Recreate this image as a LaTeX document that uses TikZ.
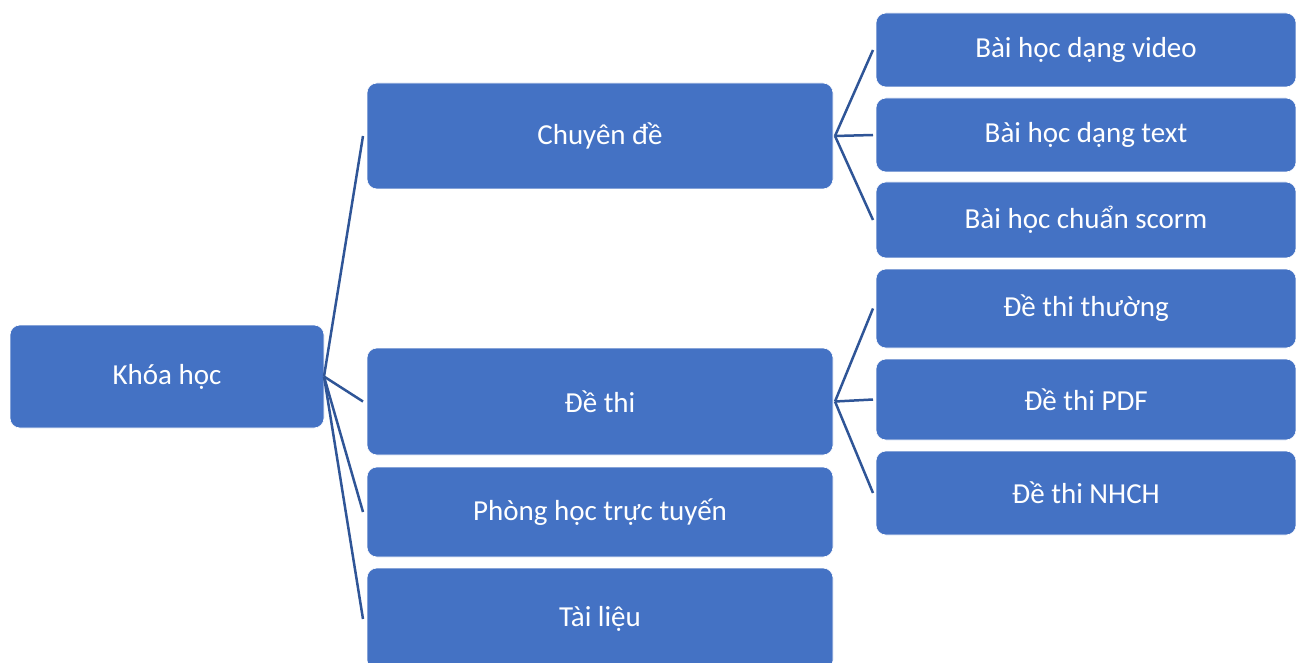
\documentclass[tikz,border=0pt]{standalone}
\usepackage{fontspec}
\setmainfont{Carlito}
\usepackage{tikz}
\definecolor{boxblue}{HTML}{4472C4}
\definecolor{lineblue}{HTML}{2F5597}

\begin{document}
\begin{tikzpicture}[x=1pt, y=-1pt,
		topic/.style={draw=white, line width=0.6pt, fill=boxblue, rounded corners=10pt,
			text=white, font=\fontsize{29}{33}\selectfont, inner sep=0pt, outer sep=0pt},
		rootbox/.style={topic, minimum width=314pt, minimum height=103pt},
		midbox/.style={topic, minimum width=466pt},
		leafbox/.style={topic, minimum width=420pt},
		link/.style={draw=lineblue, line width=2.5pt}]
		%%%%% START %%%%%
		\useasboundingbox (0, 0) rectangle (1296, 663);
		\clip (0, 0) rectangle (1296, 663);
		
		\node[rootbox] (khoahoc) at (167, 376.5) {Khóa học};
		
		\node[midbox, minimum height=106pt] (chuyende) at (600, 136) {Chuyên đề};
		\node[midbox, minimum height=107pt] (dethi) at (600, 401.5) {Đề thi};
		\node[midbox, minimum height=90pt] (phonghoc) at (600, 512) {Phòng học trực tuyến};
		\node[midbox, minimum height=102pt] (tailieu) at (600, 619) {Tài liệu};
		
		\node[leafbox, minimum height=74pt] (video) at (1086, 50) {Bài học dạng video};
		\node[leafbox, minimum height=74pt] (text) at (1086, 135) {Bài học dạng text};
		\node[leafbox, minimum height=76pt] (scorm) at (1086, 220) {Bài học chuẩn scorm};
		\node[leafbox, minimum height=79pt] (thuong) at (1086, 308.5) {Đề thi thường};
		\node[leafbox, minimum height=81pt] (pdf) at (1086, 399.5) {Đề thi PDF};
		\node[leafbox, minimum height=84pt] (nhch) at (1086, 493) {Đề thi NHCH};
		
		% root to topics
		\draw[link] (khoahoc.east) -- ([xshift=-4pt]chuyende.west);
		\draw[link] (khoahoc.east) -- ([xshift=-4pt]dethi.west);
		\draw[link] (khoahoc.east) -- ([xshift=-4pt]phonghoc.west);
		\draw[link] (khoahoc.east) -- ([xshift=-4pt]tailieu.west);
		
		% topics to leaves
		\foreach \leaf in {video, text, scorm}
			\draw[link] ([xshift=2pt]chuyende.east) -- ([xshift=-3pt]\leaf.west);
		\foreach \leaf in {thuong, pdf, nhch}
			\draw[link] ([xshift=2pt]dethi.east) -- ([xshift=-3pt]\leaf.west);
		%%%%% END %%%%%
	\end{tikzpicture}
\end{document}
